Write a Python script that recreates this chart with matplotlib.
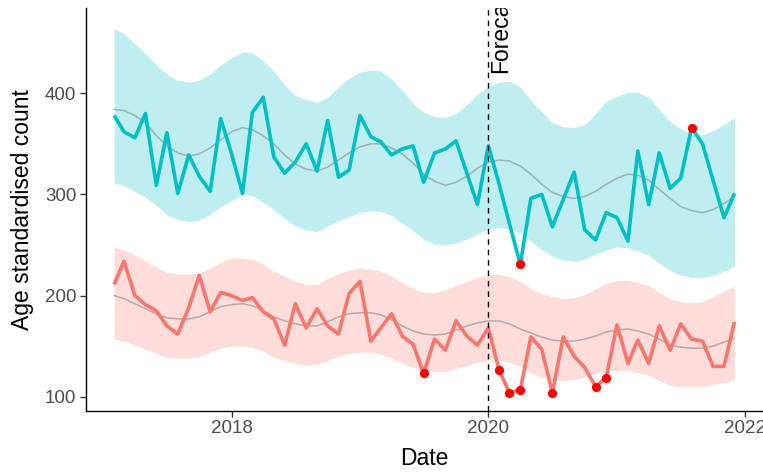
import matplotlib
matplotlib.use("Agg")
import matplotlib.pyplot as plt
import matplotlib.dates as mdates
import numpy as np
import pandas as pd

plt.rcParams['font.family'] = ['Liberation Sans', 'DejaVu Sans']

# Monthly observations, Feb 2017 - Dec 2021
dates = pd.date_range("2017-02-01", periods=59, freq="MS")

group_a = [378, 362, 356, 380, 309, 361, 301, 339, 318, 303, 375, 340,
           301, 381, 396, 337, 321, 332, 350, 323, 373, 317, 324, 378,
           357, 352, 339, 345, 348, 312, 341, 345, 353, 321, 290, 348,
           310, 271, 231, 296, 300, 268, 295, 322, 265, 255, 282, 277,
           254, 343, 290, 341, 306, 316, 366, 350, 314, 277, 301]
group_a_fit = [384, 383, 378, 371, 358, 348, 341, 338, 340, 346, 354, 362,
               366, 364, 358, 350, 339, 330, 325, 323, 327, 334, 341, 347,
               350, 350, 346, 340, 331, 320, 313, 309, 312, 318, 326, 332,
               334, 333, 328, 320, 310, 302, 298, 296, 298, 303, 310, 316,
               320, 319, 314, 305, 296, 288, 284, 282, 285, 291, 298]
group_a_upper = [464, 459, 449, 439, 428, 419, 413, 411, 413, 419, 428, 435,
                 441, 440, 432, 422, 408, 398, 394, 391, 396, 406, 415, 421,
                 423, 422, 414, 403, 390, 381, 377, 376, 380, 389, 399, 407,
                 411, 412, 406, 393, 382, 371, 367, 366, 369, 380, 392, 397,
                 401, 401, 396, 384, 372, 365, 360, 359, 363, 369, 376]
group_a_lower = [311, 309, 303, 297, 289, 280, 275, 273, 275, 280, 288, 294,
                 300, 299, 292, 285, 276, 269, 265, 263, 269, 274, 278, 282,
                 284, 283, 279, 272, 264, 256, 251, 250, 252, 256, 261, 266,
                 267, 266, 262, 254, 245, 239, 235, 234, 236, 241, 245, 248,
                 247, 244, 240, 232, 225, 220, 218, 218, 220, 224, 229]

group_b = [211, 234, 200, 191, 185, 170, 162, 188, 220, 184, 203, 200,
           195, 198, 184, 177, 151, 192, 168, 187, 170, 162, 202, 214,
           155, 168, 182, 160, 152, 123, 157, 146, 175, 160, 151, 168,
           126, 104, 107, 159, 147, 104, 159, 140, 129, 110, 119, 171,
           133, 156, 133, 170, 146, 172, 157, 155, 130, 130, 174]
group_b_fit = [200, 197, 192, 187, 182, 178, 177, 177, 179, 184, 189, 191,
               192, 190, 185, 179, 175, 172, 170, 170, 174, 179, 182, 183,
               183, 181, 176, 170, 165, 162, 161, 162, 166, 170, 173, 175,
               175, 172, 167, 163, 159, 156, 155, 155, 157, 160, 164, 166,
               167, 165, 162, 157, 151, 149, 148, 148, 150, 154, 158]
group_b_upper = [248, 245, 240, 234, 228, 223, 221, 221, 222, 227, 233, 237,
                 237, 236, 231, 224, 219, 214, 211, 211, 217, 222, 225, 227,
                 226, 224, 219, 213, 207, 203, 203, 205, 210, 214, 218, 221,
                 221, 219, 214, 207, 202, 199, 197, 198, 201, 207, 212, 215,
                 215, 213, 210, 203, 197, 194, 193, 194, 199, 204, 209]
group_b_lower = [157, 155, 151, 147, 143, 139, 138, 138, 140, 144, 148, 150,
                 150, 149, 145, 139, 136, 133, 131, 132, 136, 140, 143, 144,
                 144, 142, 138, 133, 129, 126, 125, 125, 128, 131, 134, 136,
                 136, 134, 130, 124, 119, 117, 116, 117, 119, 123, 125, 126,
                 126, 124, 121, 116, 111, 110, 110, 110, 112, 114, 117]

# Months flagged as outside the expected range
outliers_a = [38, 54]
outliers_b = [29, 36, 37, 38, 41, 45, 46]

forecast_start = pd.Timestamp("2020-01-01")
forecast_label = "Forecast"

col_a = "#00BFC4"
col_b = "#F8766D"

fig = plt.figure(figsize=(7.63, 4.72), dpi=100)
ax = fig.add_axes([86 / 763, 61.3 / 472, 677 / 763, 402.4 / 472])

for fit, lo, hi, vals, col in [
    (group_a_fit, group_a_lower, group_a_upper, group_a, col_a),
    (group_b_fit, group_b_lower, group_b_upper, group_b, col_b),
]:
    ax.fill_between(dates, lo, hi, color=col, alpha=0.25, linewidth=0)
    ax.plot(dates, fit, color="#7f7f7f", alpha=0.55, lw=1.1)
    ax.plot(dates, vals, color=col, lw=2.6, solid_joinstyle="round",
            solid_capstyle="butt")

for vals, idx in [(group_a, outliers_a), (group_b, outliers_b)]:
    ax.scatter(dates[idx], np.array(vals)[idx], s=44, color="red",
               zorder=5, linewidths=0)

ax.axvline(forecast_start, color="black", lw=1.0, ls=(0, (4, 3.5)))
ax.text(forecast_start + pd.Timedelta(days=1), 420, forecast_label,
        rotation=90, rotation_mode="anchor", ha="left", va="top",
        fontsize=16.5, color="black", clip_on=True)

ax.set_xlim(pd.Timestamp("2016-11-13"), pd.Timestamp("2022-02-20"))
ax.set_ylim(86.2, 484)
ax.set_yticks([100, 200, 300, 400])
ax.xaxis.set_major_locator(mdates.YearLocator(2))
ax.xaxis.set_major_formatter(mdates.DateFormatter("%Y"))

for side in ["top", "right"]:
    ax.spines[side].set_visible(False)
for side in ["left", "bottom"]:
    ax.spines[side].set_linewidth(1.0)
    ax.spines[side].set_color("black")
ax.tick_params(axis="both", length=4, width=1.0, colors="#333333",
               labelsize=13.5, labelcolor="#4d4d4d", pad=3)

ax.set_xlabel("Date", fontsize=16.5, labelpad=7)
ax.set_ylabel("Age standardised count", fontsize=16.5, labelpad=8)

fig.savefig("out.png", dpi=100)
